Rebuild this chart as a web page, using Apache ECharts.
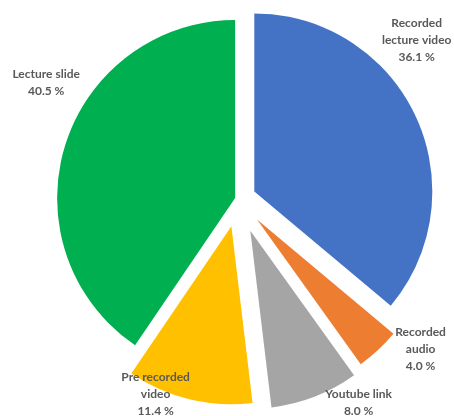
<!DOCTYPE html>
<html>
<head>
<meta charset="utf-8">
<title>Lecture material types</title>
<script src="https://cdn.jsdelivr.net/npm/echarts@6/dist/echarts.min.js"></script>
<style>
  html, body { margin: 0; padding: 0; background: #ffffff; }
  #chart { width: 454px; height: 416px; }
</style>
</head>
<body>
<div id="chart"></div>
<script>
// Share of each material type (percent), clockwise from 12 o'clock
const categories = ['Recorded lecture video', 'Recorded audio', 'Youtube link', 'Pre recorded video', 'Lecture slide'];
const labelLines = ['Recorded\nlecture video', 'Recorded\naudio', 'Youtube link', 'Pre recorded\nvideo', 'Lecture slide'];
const shares = [36.1, 4.0, 8.0, 11.4, 40.5];

// Styling
const colors = ['#4472C4', '#ED7D31', '#A5A5A5', '#FFC000', '#00B050'];
const explode = [18, 28, 34, 28, 3];            // px each slice is pulled out
const labelNudge = [[79, -112], [101, 62], [75, 86], [-54, 79], [-101, -88]];
const pieCenter = [238, 199];
const pieRadius = 178;

const total = shares.reduce((a, b) => a + b, 0);

// Each slice gets its own pie series (others transparent) so it can be pulled out by its own amount
const series = [];
let cum = 0;
shares.forEach((v, i) => {
  const mid = (cum + v / 2) / total * 2 * Math.PI; // clockwise from top
  cum += v;
  const cx = pieCenter[0] + explode[i] * Math.sin(mid);
  const cy = pieCenter[1] - explode[i] * Math.cos(mid);
  series.push({
    type: 'pie',
    silent: true,
    animation: false,
    center: [cx, cy],
    radius: [0, pieRadius],
    startAngle: 90,
    clockwise: true,
    avoidLabelOverlap: false,
    labelLine: { show: false },
    labelLayout: { dx: labelNudge[i][0], dy: labelNudge[i][1] },
    data: shares.map((s, j) => ({
      name: categories[j],
      value: s,
      itemStyle: { color: j === i ? colors[j] : 'rgba(0,0,0,0)', borderWidth: 0 },
      label: {
        show: j === i,
        position: 'inside',
        formatter: () => labelLines[j] + '\n' + s.toFixed(1) + ' %',
        color: '#595959',
        fontFamily: 'Lato',
        fontWeight: 'bold',
        fontSize: 12,
        lineHeight: 17,
        align: 'center'
      }
    }))
  });
});

const chart = echarts.init(document.getElementById('chart'), null, { renderer: 'canvas' });
chart.setOption({
  backgroundColor: '#ffffff',
  animation: false,
  series: series
});
</script>
</body>
</html>
